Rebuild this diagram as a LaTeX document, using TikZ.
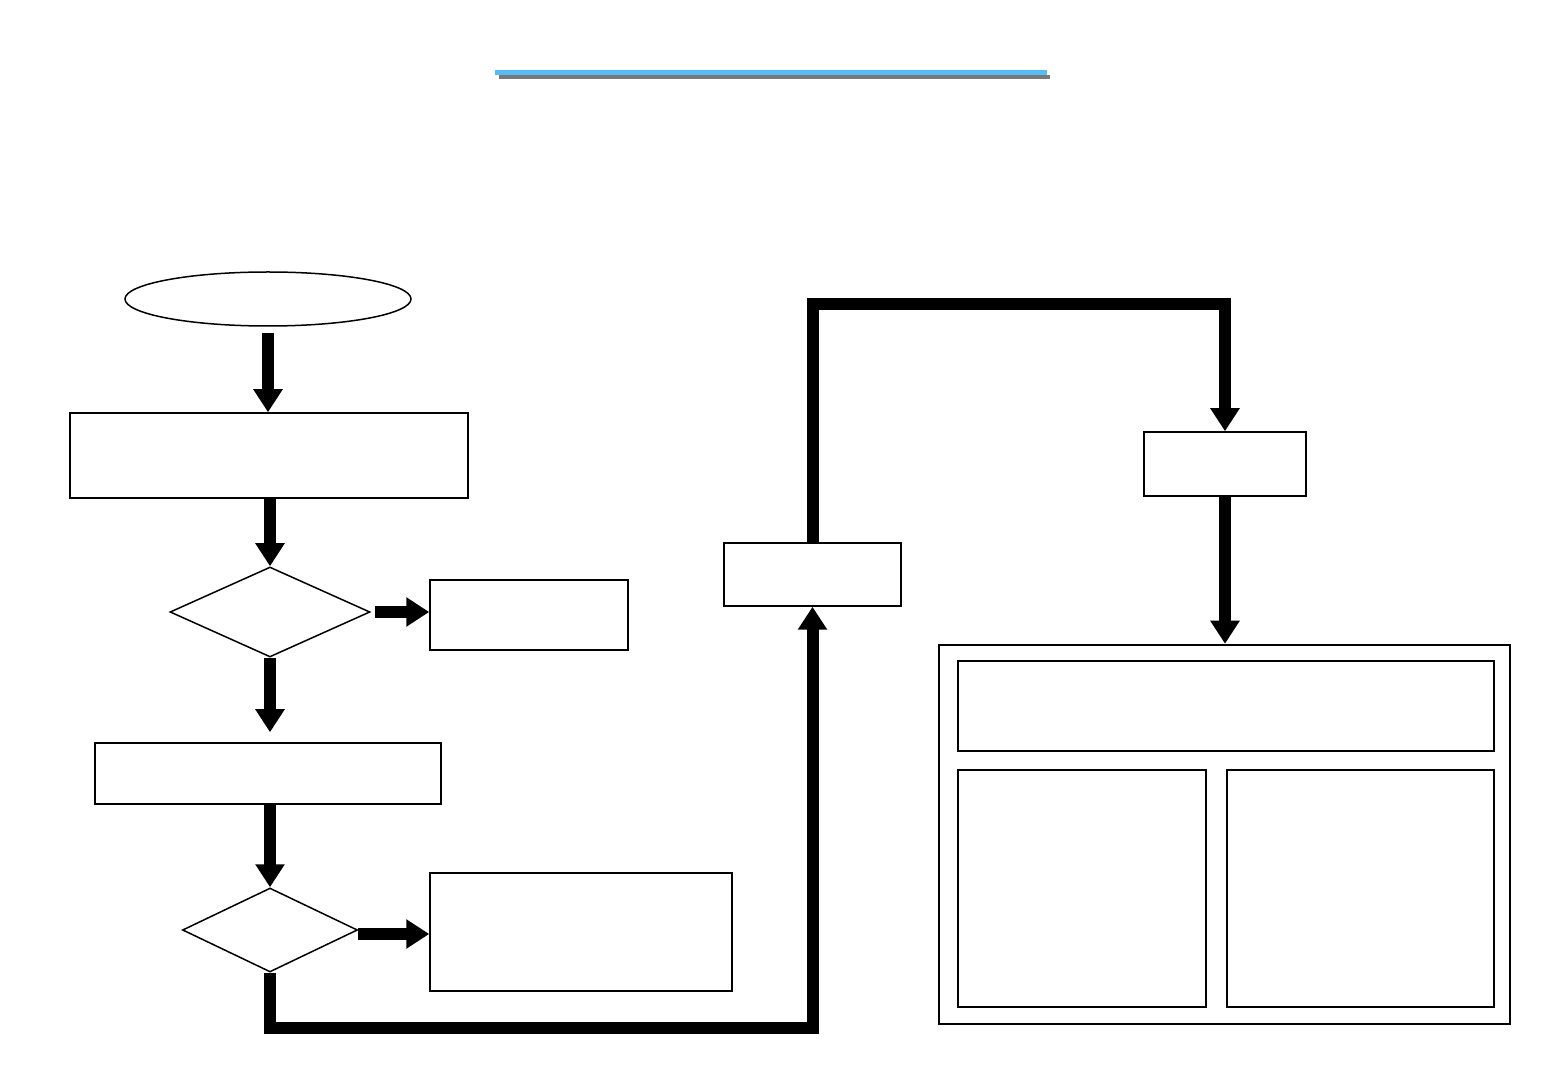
\documentclass[tikz,border=0pt]{standalone}
\usetikzlibrary{arrows.meta,shapes.geometric}
\definecolor{titleblue}{RGB}{88,188,244}
\definecolor{titlegray}{RGB}{120,120,120}
\begin{document}
\begin{tikzpicture}[x=0.5pt,y=-0.5pt,
  box/.style={draw=black,line width=0.75pt,rectangle,inner sep=0pt},
  bigbox/.style={draw=black,line width=1.25pt,rectangle,inner sep=0pt},
  dia/.style={draw=black,line width=0.75pt,diamond,inner sep=0pt},
  flow/.style={line width=6pt,-{Triangle[width=14pt,length=11.5pt]}},
  pipe/.style={line width=6pt,miter limit=10}
]
\useasboundingbox (0,0) rectangle (1560,1080);
% title underline
\fill[titlegray] (499,75) rectangle (1050,79.5);
\fill[titleblue] (495,70) rectangle (1047,75);
% nodes
\node[ellipse,draw=black,line width=0.75pt,inner sep=0pt,minimum width=143pt,minimum height=27pt] (start) at (268,299) {};
\node[box,minimum width=199pt,minimum height=42.5pt] (b1) at (269,455.5) {};
\node[dia,minimum width=100pt,minimum height=45pt] (d1) at (270,612) {};
\node[box,minimum width=99pt,minimum height=35pt] (b2) at (529,615) {};
\node[box,minimum width=173pt,minimum height=30.5pt] (b3) at (268,773.5) {};
\node[dia,minimum width=87.5pt,minimum height=42pt] (d2) at (270,930) {};
\node[box,minimum width=151pt,minimum height=59pt] (b4) at (581,932) {};
\node[box,minimum width=88.5pt,minimum height=31.5pt] (b5) at (812.5,574.5) {};
\node[box,minimum width=81pt,minimum height=32pt] (b6) at (1225,464) {};
\node[bigbox,minimum width=285.5pt,minimum height=189.5pt] (big) at (1224.5,834.5) {};
\node[box,minimum width=268pt,minimum height=45pt] (in1) at (1226,706) {};
\node[box,minimum width=124pt,minimum height=118.5pt] (in2) at (1082,888.5) {};
\node[box,minimum width=133.5pt,minimum height=118.5pt] (in3) at (1360.5,888.5) {};
% connectors
\draw[flow,shorten <=3pt] (start.south) -- (start.south |- b1.north);
\draw[flow] (d1.north |- b1.south) -- (d1.north);
\draw[flow,shorten <=2pt] (d1.east) -- (d1.east -| b2.west);
\draw[flow,shorten >=5pt] (d1.south) -- (d1.south |- b3.north);
\draw[flow] (d2.north |- b3.south) -- (d2.north);
\draw[flow] ([yshift=-2pt]d2.east) -- ([yshift=-2pt]d2.east -| b4.west);
\draw[pipe,-{Triangle[width=14pt,length=11.5pt]}] (d2.south) -- ++(0,55) -| (b5.south);
\draw[pipe,-{Triangle[width=14pt,length=11.5pt]}] (b5.north) -- (b5.north |- 0,304) -| (b6.north);
\draw[flow] (b6.south) -- (big.north -| b6.south);
\end{tikzpicture}
\end{document}
